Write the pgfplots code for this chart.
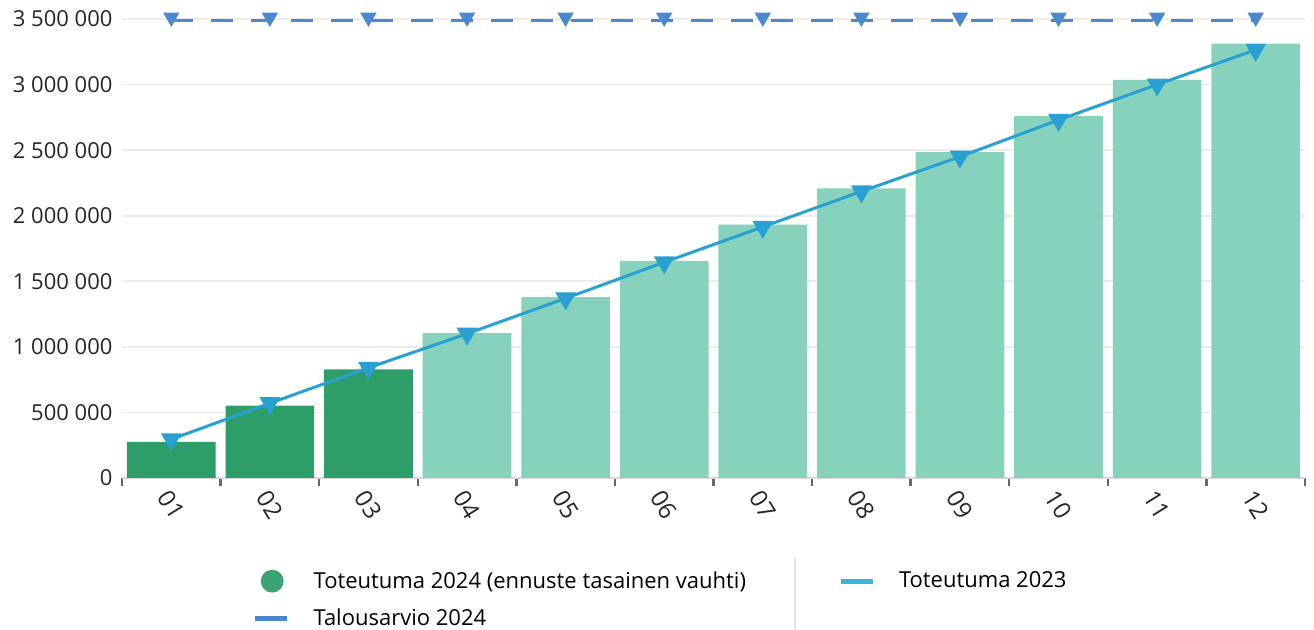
\documentclass[border=0pt]{standalone}
\usepackage{pgfplots}
\pgfplotsset{compat=1.18}
\usepackage{fontspec}
\setmainfont{Open Sans}
\definecolor{darkbar}{HTML}{2E9E69}
\definecolor{lightbar}{HTML}{87D2BC}
\definecolor{line23}{HTML}{29A0D2}
\definecolor{leg23}{HTML}{3DB5DA}
\definecolor{budget}{HTML}{4A89CF}
\definecolor{legdot}{HTML}{3BA372}
\pgfplotsset{shortline/.style={legend image code/.code={\draw[##1] (0pt,0pt) -- (16pt,0pt);}}}
\begin{document}
\begin{tikzpicture}
\path[use as bounding box] (0,0) rectangle (657pt,315pt);
\begin{axis}[
  at={(61pt,76pt)}, anchor=south west,
  scale only axis, width=591.5pt, height=229.5pt,
  xmin=0.5, xmax=12.5, ymin=0, ymax=3500000,
  clip=false,
  axis y line*=left, y axis line style={draw=none},
  axis x line*=bottom, x axis line style={draw=black!15, line width=0.8pt},
  xtick={1,...,12},
  xticklabels={01,02,03,04,05,06,07,08,09,10,11,12},
  minor xtick={0.5,1.5,...,12.5},
  major x tick style={draw=none},
  minor x tick style={draw=black!60, line width=1.2pt},
  minor tick length=4pt,
  tick align=outside,
  xticklabel style={yshift=-9pt, rotate=-58, anchor=center, font=\fontsize{12}{14}\selectfont, text=black!85},
  ytick={0,500000,...,3500000},
  major y tick style={draw=none},
  ymajorgrids, grid style={draw=black!8, line width=0.8pt},
  scaled y ticks=false,
  yticklabel style={/pgf/number format/.cd, fixed, 1000 sep={\ }, assume math mode=true, /tikz/.cd, font=\fontsize{11}{13}\selectfont, text=black!85, xshift=3pt},
  legend columns=2,
  legend style={at={(axis description cs:0.105,-0.185)}, anchor=north west, draw=none, fill=none,
    font=\fontsize{11}{13}\selectfont, row sep=5pt,
    /tikz/every odd column/.append style={column sep=10pt},
    /tikz/every even column/.append style={column sep=44pt}},
  legend cell align=left,
]
\addplot[ybar, bar width=0.9, bar shift=0pt, fill=darkbar, draw=none, forget plot]
  coordinates {(1,276000) (2,552000) (3,828000)};
\addplot[ybar, bar width=0.9, bar shift=0pt, fill=lightbar, draw=none, forget plot]
  coordinates {(4,1104000) (5,1380000) (6,1656000) (7,1932000) (8,2208000) (9,2484000) (10,2760000) (11,3036000) (12,3312000)};
\addlegendimage{only marks, mark=*, mark size=5.5pt, color=legdot}
\addlegendentry{Toteutuma 2024 (ennuste tasainen vauhti)}
\addplot[color=line23, line width=1.5pt, mark=triangle*, mark size=4.5pt, mark options={rotate=180}, forget plot]
  coordinates {(1,295000) (2,570000) (3,840000) (4,1100000) (5,1370000) (6,1645000) (7,1915000) (8,2185000) (9,2450000) (10,2730000) (11,3000000) (12,3265000)};
\addlegendimage{color=leg23, line width=2.5pt, shortline}
\addlegendentry{Toteutuma 2023}
\addplot[color=budget, line width=1.8pt, dash pattern=on 11pt off 9pt, mark=triangle*, mark size=3pt, mark options={rotate=180, solid, yshift=-1.5pt}, forget plot]
  coordinates {(1,3490000) (2,3490000) (3,3490000) (4,3490000) (5,3490000) (6,3490000) (7,3490000) (8,3490000) (9,3490000) (10,3490000) (11,3490000) (12,3490000)};
\addlegendimage{color=budget, line width=2.5pt, shortline}
\addlegendentry{Talousarvio 2024}
\end{axis}
\draw[black!10, line width=0.8pt] (397.5pt,0pt) -- (397.5pt,36pt);
\end{tikzpicture}
\end{document}
